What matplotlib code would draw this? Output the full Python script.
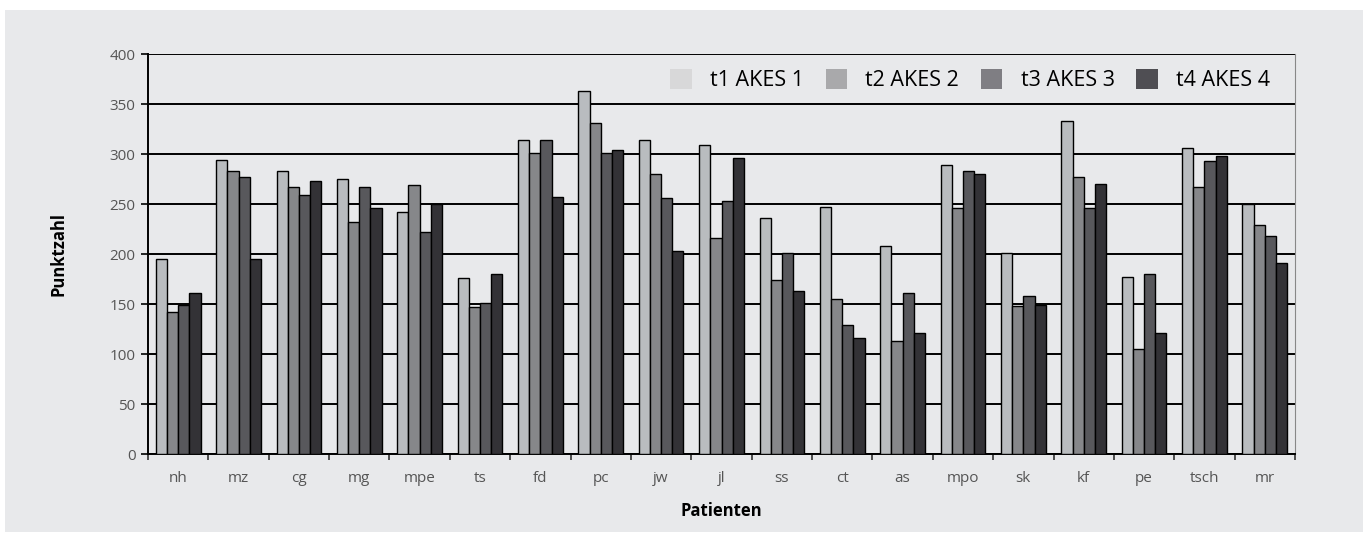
import numpy as np
import matplotlib.pyplot as plt
from matplotlib.patches import Patch, Rectangle

patients = ["nh", "mz", "cg", "mg", "mpe", "ts", "fd", "pc", "jw", "jl",
            "ss", "ct", "as", "mpo", "sk", "kf", "pe", "tsch", "mr"]

t1 = [195, 294, 283, 275, 242, 176, 314, 363, 314, 309, 236, 247, 208, 289, 201, 333, 177, 306, 250]
t2 = [142, 283, 267, 232, 269, 147, 301, 331, 280, 216, 174, 155, 113, 246, 148, 277, 105, 267, 229]
t3 = [149, 277, 259, 267, 222, 151, 314, 301, 256, 253, 201, 129, 161, 283, 158, 246, 180, 293, 218]
t4 = [161, 195, 273, 246, 250, 180, 257, 304, 203, 296, 163, 116, 121, 280, 149, 270, 121, 298, 191]

series = [t1, t2, t3, t4]
labels = ["t1 AKES 1", "t2 AKES 2", "t3 AKES 3", "t4 AKES 4"]
bar_colors = ["#b9bcbf", "#86878a", "#58585c", "#333236"]
legend_colors = ["#d8d8d9", "#a9a9ab", "#7f7e83", "#4f4e53"]

plt.rcParams['font.family'] = ['Open Sans', 'DejaVu Sans']

bg = "#e8e9eb"
fig = plt.figure(figsize=(13.63, 5.33), dpi=100)
fig.patch.set_facecolor("white")
# grey panel behind the chart
fig.add_artist(Rectangle((5 / 1363, 1 / 533), 1 - 5 / 1363, 522 / 533,
                         transform=fig.transFigure, facecolor=bg,
                         edgecolor="none", zorder=-10))

ax = fig.add_axes([148 / 1363, 1 - 454 / 533, (1295 - 148) / 1363, 400 / 533])
ax.set_facecolor(bg)

x = np.arange(len(patients))
w = 0.185
for i, (vals, c) in enumerate(zip(series, bar_colors)):
    ax.bar(x + (i - 1.5) * w, vals, width=w, color=c, edgecolor="black",
           linewidth=1.0, zorder=3)

ax.set_xlim(-0.5, len(patients) - 0.5)
ax.set_ylim(0, 400)
ax.set_yticks(range(0, 401, 50))
ax.yaxis.grid(True, color="black", linewidth=1.4, zorder=1)
ax.set_axisbelow(True)

ax.set_xticks(x)
ax.set_xticklabels(patients)
ax.set_xticks(np.arange(-0.5, len(patients), 1), minor=True)
ax.tick_params(axis="x", which="major", length=0, pad=12, labelsize=11, labelcolor="#555555")
ax.tick_params(axis="x", which="minor", length=4, width=1.2, color="#333333")
ax.tick_params(axis="y", length=5, width=1.2, pad=4, labelsize=11, labelcolor="#555555")

ax.spines["left"].set_color("black")
ax.spines["left"].set_linewidth(1.4)
ax.spines["bottom"].set_color("black")
ax.spines["bottom"].set_linewidth(1.4)
ax.spines["right"].set_color("#888888")
ax.spines["top"].set_visible(False)

ax.set_ylabel("Punktzahl", fontsize=12, fontweight="bold", labelpad=30)
ax.set_xlabel("Patienten", fontsize=12, fontweight="bold", labelpad=12)

handles = [Patch(facecolor=c, edgecolor="none") for c in legend_colors]
ax.legend(handles, labels, ncol=4, loc="upper right", frameon=False,
          fontsize=15.5, handlelength=1.0, handleheight=1.05, handletextpad=0.85,
          columnspacing=1.0, bbox_to_anchor=(0.995, 1.012))

plt.savefig("out.png", dpi=100, facecolor=fig.get_facecolor())
